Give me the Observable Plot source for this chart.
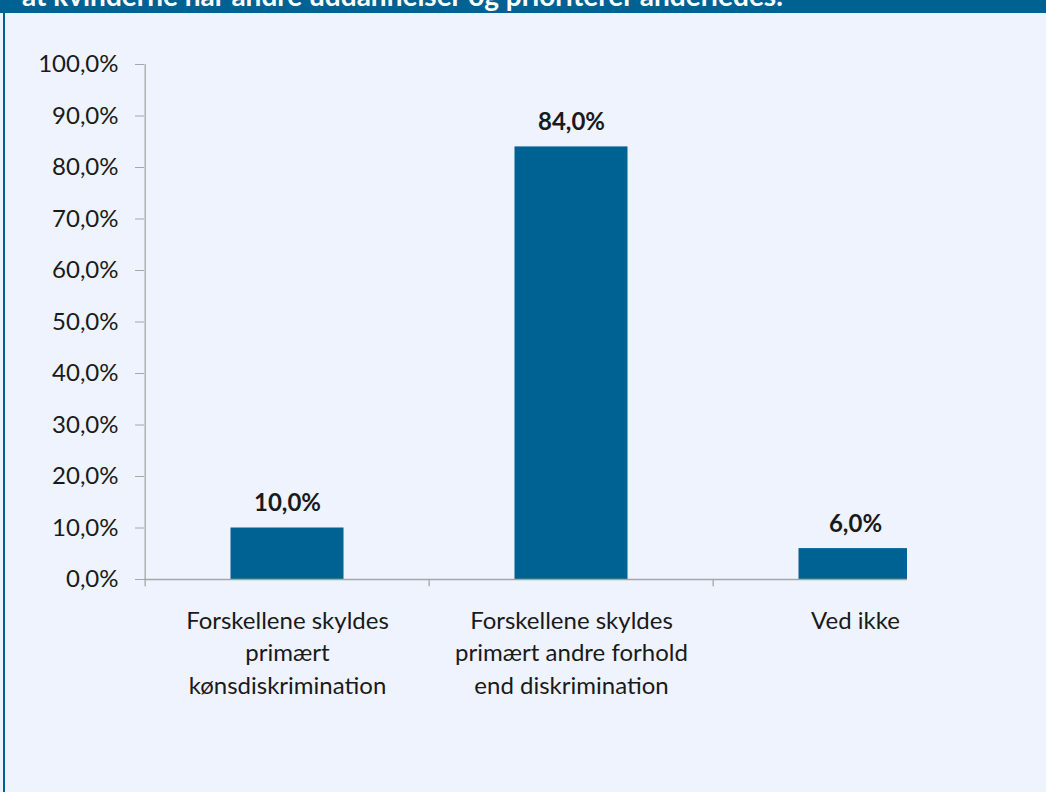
<!DOCTYPE html>
<html><head><meta charset="utf-8">
<script src="https://cdn.jsdelivr.net/npm/d3@7"></script>
<script src="https://cdn.jsdelivr.net/npm/@observablehq/plot@0.6"></script>
<style>
body{margin:0;background:#EEF3FE;}
#wrap{position:relative;width:1046px;height:792px;background:#EEF3FE;overflow:hidden;font-family:Lato,"Open Sans",sans-serif;}
#band{position:absolute;left:0;top:0;width:1046px;height:13px;background:#006293;overflow:hidden;}
#band span{position:absolute;left:22px;top:-18px;line-height:27px;font-size:28px;font-weight:bold;color:#fff;white-space:nowrap;}
#lborder{position:absolute;left:3px;top:0;width:2px;height:792px;background:#006293;}
#chart{position:absolute;left:0;top:0;}
</style></head>
<body>
<div id="wrap">
  <div id="chart"></div>
  <div id="band"><span>at kvinderne har andre uddannelser og prioriterer anderledes.</span></div>
  <div id="lborder"></div>
</div>
<script>
const categories = ["Forskellene skyldes primært kønsdiskrimination", "Forskellene skyldes primært andre forhold end diskrimination", "Ved ikke"];
const categoryLabels = ["Forskellene skyldes\nprimært\nkønsdiskrimination", "Forskellene skyldes\nprimært andre forhold\nend diskrimination", "Ved ikke"];
const values = [10.0, 84.0, 6.0];
const yTicks = [0, 10, 20, 30, 40, 50, 60, 70, 80, 90, 100];

const data = categories.map((c, i) => ({cat: c, value: values[i]}));
const fmt = d => d.toFixed(1).replace(".", ",") + "%";
const blue = "#006293";
const grey = "#A6A6A6";
const x0 = 144, x1 = 998;
const step = (x1 - x0) / categories.length;

const chart = Plot.plot({
  width: 1046, height: 792,
  marginLeft: 144, marginRight: 139, marginTop: 64, marginBottom: 213,
  x: {type: "band", domain: categories, range: [x0, x1], padding: 0},
  y: {domain: [0, 100], range: [579, 64]},
  style: {background: "transparent", fontFamily: "Lato, 'Open Sans', sans-serif", fontSize: "24px", color: "#1a1a1a"},
  marks: [
    Plot.barY(data, {x: "cat", y: "value", fill: blue, insetLeft: 85.5, insetRight: 85.5, clip: true}),
    Plot.ruleY([0], {stroke: grey, strokeWidth: 1.3}),
    Plot.ruleX([categories[0]], {dx: -step / 2, y1: 0, y2: 100, stroke: grey, strokeWidth: 1.3}),
    Plot.ruleX(categories, {x: d => d, dx: -step / 2, y1: 0, y2: -1.4, stroke: grey, strokeWidth: 1.3}),
    Plot.axisY({ticks: yTicks, tickFormat: fmt, tickSize: 9, tickPadding: 17, stroke: grey, fill: "#1a1a1a", label: null}),
    Plot.axisX({tickSize: 0, tickPadding: 27, tickFormat: (d) => categoryLabels[categories.indexOf(d)], lineHeight: 1.34, fill: "#1a1a1a", label: null}),
    Plot.text(data, {x: "cat", y: "value", text: d => fmt(d.value), dy: -17, lineAnchor: "bottom", fontWeight: "bold", fill: "#1a1a1a"})
  ]
});
document.getElementById("chart").append(chart);
</script>
</body></html>
